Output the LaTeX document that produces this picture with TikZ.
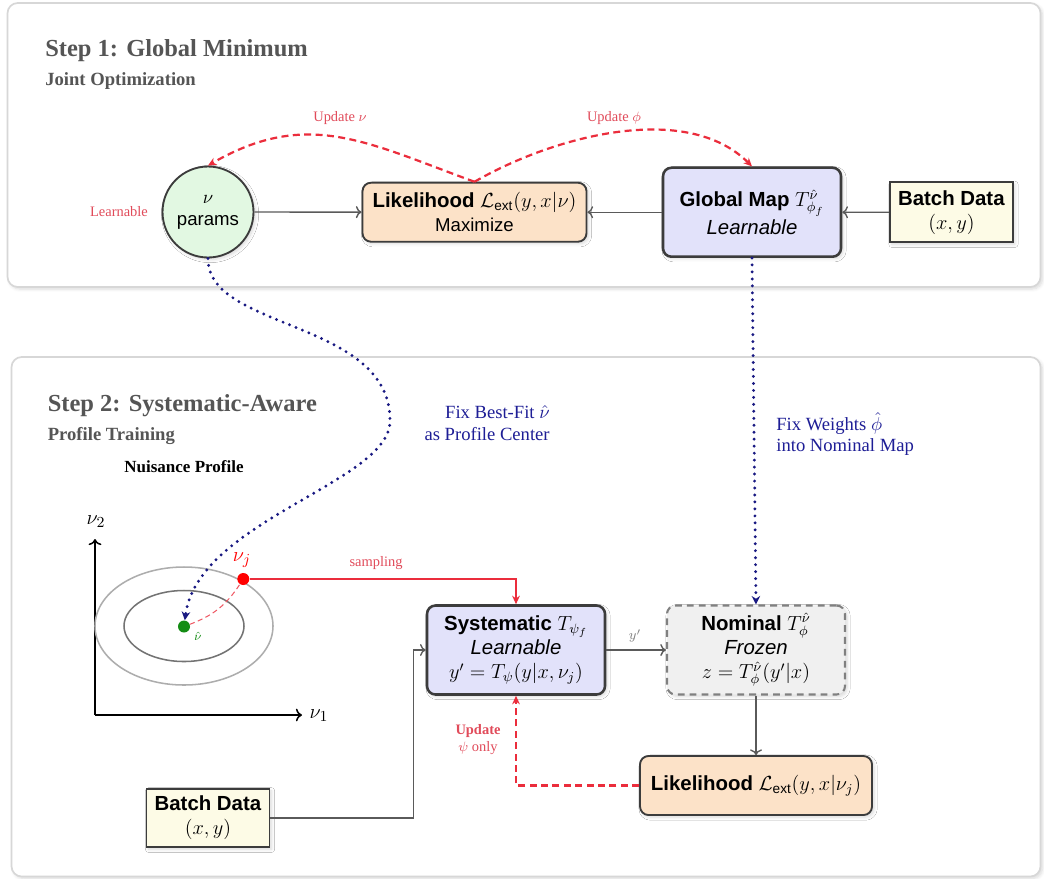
\documentclass[tikz,border=0pt]{standalone}
\usepackage{amsmath}
\usepackage[no-math]{fontspec}
\setmainfont{Liberation Serif}
\setsansfont{Liberation Sans}
\usetikzlibrary{arrows.meta,shadows.blur,calc}
\definecolor{lav}{RGB}{226,226,250}
\definecolor{peach}{RGB}{252,226,200}
\definecolor{mint}{RGB}{226,248,226}
\definecolor{cream}{RGB}{253,251,230}
\definecolor{nomfill}{RGB}{240,240,240}
\definecolor{rline}{RGB}{235,45,60}
\definecolor{rtext}{RGB}{225,75,90}
\definecolor{navy}{RGB}{25,25,130}
\definecolor{btext}{RGB}{30,30,150}
\definecolor{edge}{RGB}{60,60,60}
\definecolor{garrow}{RGB}{90,90,90}
\definecolor{titlegray}{RGB}{85,85,85}
\definecolor{panelline}{RGB}{215,215,215}
\definecolor{dotgreen}{RGB}{20,140,20}
\newcommand{\extsub}{\text{\sffamily ext}}
\begin{document}
\begin{tikzpicture}[x=0.5882pt,y=-0.5882pt,
  softshadow/.style={blur shadow={shadow xshift=1.2pt,shadow yshift=-1.2pt,shadow blur steps=6,shadow opacity=15}},
  panel/.style={draw=panelline,line width=1pt,rounded corners=6pt,fill=white,softshadow},
  steptitle/.style={font=\fontsize{14.4}{17}\selectfont\bfseries,text=titlegray,inner sep=0pt},
  stepsub/.style={font=\fontsize{10.95}{13}\selectfont\bfseries,text=titlegray,inner sep=0pt},
  nodetext/.style={font=\sffamily\fontsize{12}{14.2}\selectfont,align=center,inner sep=0pt},
  gmbox/.style={nodetext,draw=edge,line width=1.5pt,rounded corners=5pt,fill=lav,softshadow},
  likbox/.style={nodetext,draw=edge,line width=1.1pt,rounded corners=5pt,fill=peach,softshadow},
  databox/.style={nodetext,draw=edge,line width=1.1pt,fill=cream,softshadow},
  nombox/.style={nodetext,draw=gray,line width=1.2pt,dash pattern=on 4pt off 3pt,rounded corners=5pt,fill=nomfill,softshadow},
  redlbl/.style={font=\fontsize{8.5}{10}\selectfont,text=rtext,inner sep=0pt,align=center},
  bluelbl/.style={font=\fontsize{10.95}{12.6}\selectfont,text=btext,inner sep=0pt},
  grayarrow/.style={draw=garrow,line width=0.8pt,->},
  reddash/.style={draw=rline,line width=1.3pt,dash pattern=on 4.1pt off 2.6pt,-{Stealth[length=5pt,width=4.5pt]}},
  bluedot/.style={draw=navy,line width=1.9pt,dash pattern=on 0pt off 4.1pt,line cap=round,-{Stealth[length=5pt,width=5pt]}},
  axisline/.style={draw=black,line width=0.9pt,->}
]
\useasboundingbox (0,0) rectangle (1044,878);

% panels
\path[panel] (7.5,3) rectangle (1040.5,287);
\path[panel] (11.5,357) rectangle (1040.5,876.5);

% titles
\node[steptitle,anchor=base west] (t1) at (45,56.7) {Step 1: Global Minimum};
\node[stepsub,anchor=base west] (s1) at (45,85) {Joint Optimization};
\node[steptitle,anchor=base west] (t2) at (47.5,411.7) {Step 2: Systematic-Aware};
\node[stepsub,anchor=base west] (s2) at (47.5,440) {Profile Training};
\node[font=\fontsize{10}{12}\selectfont\bfseries,anchor=base,inner sep=0pt] (np) at (184,472.7) {Nuisance Profile};

% Step 1 nodes
\node[circle,draw=edge,line width=1.1pt,fill=mint,minimum size=91*0.5882pt,inner sep=0pt,
      font=\sffamily\fontsize{10.95}{13}\selectfont,align=center,softshadow] (params) at (208,212) {$\nu$\\params};
\node[likbox,minimum width=224*0.5882pt,minimum height=59*0.5882pt] (lik1) at (474.5,212.2)
  {\textbf{Likelihood} $\mathcal{L}_{\extsub}(y,x|\nu)$\\{\fontsize{10.95}{13}\selectfont Maximize}};
\node[gmbox,minimum width=178*0.5882pt,minimum height=89*0.5882pt] (gm) at (752,212.2)
  {\textbf{Global Map} $T^{\hat{\nu}}_{\phi_f}$\\[1pt]\textit{Learnable}};
\node[databox,minimum width=123*0.5882pt,minimum height=60*0.5882pt] (bd1) at (951.4,212.3)
  {\textbf{Batch Data}\\$(x,y)$};
\node[redlbl] (lblearn) at (119,212) {Learnable};

\draw[grayarrow] (bd1) -- (gm);
\draw[grayarrow] (gm) -- (lik1);
\draw[grayarrow] (params) -- (lik1);

\draw[reddash] (lik1.north) to[out=160,in=30,looseness=1.1] (params.north);
\draw[reddash] (lik1.north) to[out=30,in=135,looseness=0.85] (gm.north);
\node[redlbl] (lupnu) at (340,118) {Update $\nu$};
\node[redlbl] (lupphi) at (614,118) {Update $\phi$};

% Step 2: nuisance profile plot
\coordinate (O) at (95,715);
\coordinate (ax2) at (95,539);
\coordinate (ax1) at (302,715);
\draw[axisline] (O) -- (ax2);
\draw[axisline] (O) -- (ax1);
\node[inner sep=0pt,font=\fontsize{12.5}{14}\selectfont] (nu2) at (96,522) {$\nu_2$};
\node[inner sep=0pt,font=\fontsize{12.5}{14}\selectfont] (nu1) at (319,716) {$\nu_1$};
\draw[draw=black!32,line width=0.9pt] (184,626) ellipse [x radius=89,y radius=59];
\draw[draw=black!55,line width=0.9pt] (184,626) ellipse [x radius=60,y radius=35.5];
\node[circle,fill=dotgreen,minimum size=12*0.5882pt,inner sep=0pt] (nuhat) at (184,626.5) {};
\node[inner sep=0pt,text=dotgreen,font=\fontsize{7}{8}\selectfont] (nuhatlbl) at (198,636) {$\hat{\nu}$};
\node[circle,fill=red,minimum size=12*0.5882pt,inner sep=0pt] (nuj) at (243.3,579) {};
\node[inner sep=0pt,text=red,font=\fontsize{13}{15}\selectfont] (nujlbl) at (242,560) {$\nu_j$};
\draw[draw=rline!80,line width=0.6pt,dash pattern=on 3pt off 2pt] (nuhat) to[bend right=18] (nuj);

% Step 2 nodes
\node[gmbox,minimum width=178*0.5882pt,minimum height=89*0.5882pt] (sys) at (516,650)
  {\textbf{Systematic} $T_{\psi_f}$\\\textit{Learnable}\\$y'=T_{\psi}(y|x,\nu_j)$};
\node[nombox,minimum width=178*0.5882pt,minimum height=89*0.5882pt] (nom) at (756,650)
  {\textbf{Nominal} $T^{\hat{\nu}}_{\phi}$\\\textit{Frozen}\\$z=T^{\hat{\nu}}_{\phi}(y'|x)$};
\node[likbox,minimum width=232*0.5882pt,minimum height=59*0.5882pt] (lik2) at (756,785.5)
  {\textbf{Likelihood} $\mathcal{L}_{\extsub}(y,x|\nu_j)$};
\node[databox,minimum width=123*0.5882pt,minimum height=58.5*0.5882pt] (bd2) at (208,818)
  {\textbf{Batch Data}\\$(x,y)$};

% Step 2 connectors
\draw[draw=rline,line width=1.2pt,-{Stealth[length=5pt,width=4.5pt]}] (nuj) -| (sys.north);
\node[redlbl] (lsamp) at (376,563) {sampling};
\draw[grayarrow] (sys) -- (nom);
\node[inner sep=0pt,text=gray,font=\fontsize{8.5}{10}\selectfont] (lyp) at (635,636) {$y'$};
\draw[grayarrow] (nom) -- (lik2);
\draw[reddash] (lik2.west) -| (sys.south);
\node[redlbl] (lupd) at (478,740) {\textbf{Update}\\$\psi$ only};
\draw[grayarrow] (bd2.east) -| ([xshift=-12*0.5882pt]sys.west) -- (sys.west);

% blue dotted transfers
\draw[bluedot] (params.south) .. controls (207,330) and (390,320) .. (390,420)
  .. controls (392,482) and (198,520) .. (nuhat);
\draw[bluedot] (gm.south) -- (nom.north);
\node[bluelbl,align=right,anchor=east] (lfix1) at (550,423) {Fix Best-Fit $\hat{\nu}$\\as Profile Center};
\node[bluelbl,align=left,anchor=west] (lfix2) at (776,434) {Fix Weights $\hat{\phi}$\\into Nominal Map};
\end{tikzpicture}
\end{document}
